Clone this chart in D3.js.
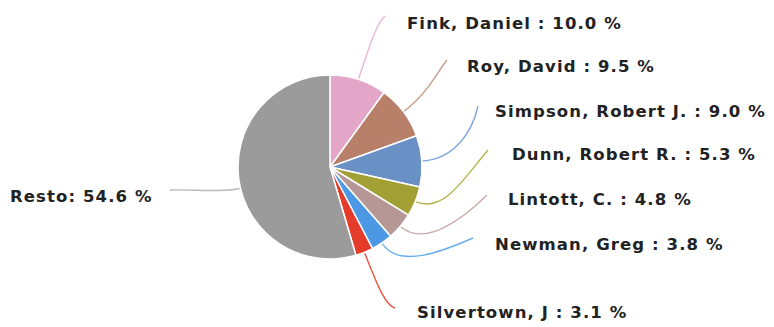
<!DOCTYPE html>
<html><head><meta charset="utf-8">
<script src="https://cdn.jsdelivr.net/npm/d3@7"></script>
<style>html,body{margin:0;padding:0;background:#fff;}svg{display:block;}</style>
</head><body>
<script>
// Data
const names = ["Fink, Daniel", "Roy, David", "Simpson, Robert J.", "Dunn, Robert R.", "Lintott, C.", "Newman, Greg", "Silvertown, J", "Resto"];
const values = [10.0, 9.5, 9.0, 5.3, 4.8, 3.8, 3.1, 54.6];
const labelSep = [" : ", " : ", " : ", " : ", " : ", " : ", " : ", ": "];
const colors = ["#e3a6c9", "#b87f69", "#6a91c6", "#a29f34", "#b69796", "#4d98e4", "#e53b2b", "#9b9b9b"];
const lineColors = ["#ecb3d3", "#c99a88", "#7ea7dc", "#b4b44a", "#c9acab", "#6aaeee", "#ee5040", "#b8b8b8"];

// Layout (label anchors and leader-curve end tangents)
const labelPos = [[407,29],[467,72],[495,117],[512,160],[508,205],[495,250],[417,318],[10,202]];
const lineEnd = [[385,16],[447,60],[478,106],[488,150],[487,195],[473,238],[395,308],[170,190]];
const c2Off = [[-8,6],[-8,9],[-6,28],[-24,28],[-26,26],[-32,14],[-10,-2],[22,-1]];
const radialLen = [28, 30, 30, 30, 30, 30, 30, 20];

const W = 774, H = 327, cx = 330, cy = 167, R = 92;
const svg = d3.select("body").append("svg").attr("width", W).attr("height", H);
const g = svg.append("g").attr("transform", `translate(${cx},${cy})`);

const pie = d3.pie().sort(null).value(d => d.v);
const data = names.map((n, i) => ({n, v: values[i], i}));
const arcs = pie(data);
const arc = d3.arc().innerRadius(0).outerRadius(R);

g.selectAll("path.slice").data(arcs).join("path")
  .attr("class", "slice")
  .attr("d", arc)
  .attr("fill", d => colors[d.data.i])
  .attr("stroke", "#fff").attr("stroke-width", 1.5).attr("stroke-linejoin", "round");

// leader lines
svg.selectAll("path.lead").data(arcs).join("path")
  .attr("class", "lead")
  .attr("fill", "none")
  .attr("stroke", d => lineColors[d.data.i])
  .attr("stroke-width", 1.4)
  .attr("d", d => {
    const i = d.data.i;
    let a = (d.startAngle + d.endAngle) / 2;
    if (i === 7) a -= 0.09;
    const ux = Math.sin(a), uy = -Math.cos(a);
    const sx = cx + ux * (R + 1), sy = cy + uy * (R + 1);
    const c1x = sx + ux * radialLen[i], c1y = sy + uy * radialLen[i];
    const [ex, ey] = lineEnd[i];
    const c2x = ex + c2Off[i][0], c2y = ey + c2Off[i][1];
    return `M${sx},${sy}C${c1x},${c1y} ${c2x},${c2y} ${ex},${ey}`;
  });

svg.selectAll("text.lbl").data(arcs).join("text")
  .attr("class", "lbl")
  .attr("x", d => labelPos[d.data.i][0])
  .attr("y", d => labelPos[d.data.i][1])
  .attr("font-family", "DejaVu Sans, sans-serif")
  .attr("font-weight", "bold")
  .attr("font-size", 16.5)
  .attr("letter-spacing", 1.1)
  .attr("fill", "#222")
  .text(d => `${d.data.n}${labelSep[d.data.i]}${d3.format(".1f")(d.data.v)} %`);
</script>
</body></html>
